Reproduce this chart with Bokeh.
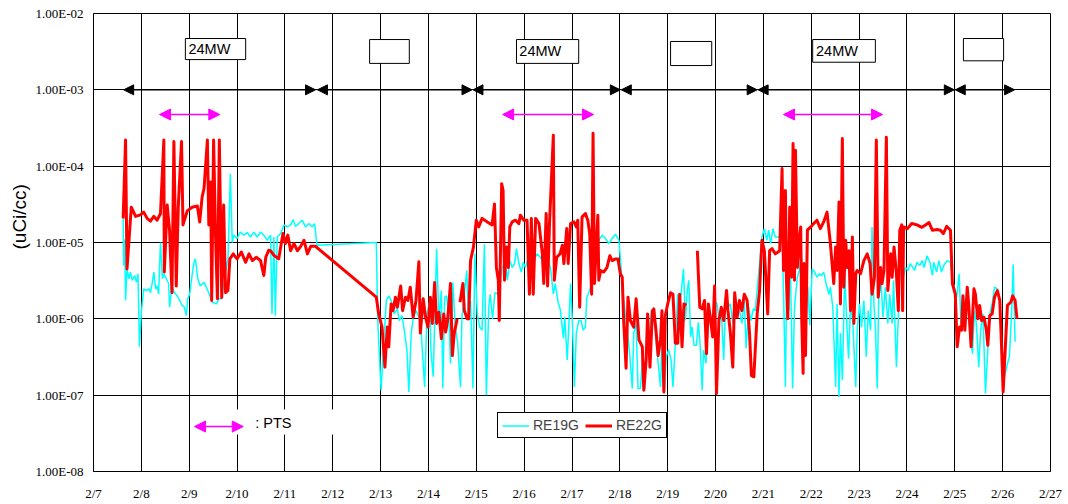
import math
from bokeh.plotting import figure
from bokeh.models import (Range1d, FixedTicker, BoxAnnotation, Label, Arrow, Title,
                          NormalHead, Legend, LegendItem)
from bokeh.embed import file_html
from bokeh.resources import INLINE

nan = math.nan

# ---------------- axis ticks ----------------
x_tick_days = [7, 8, 9, 10, 11, 12, 13, 14, 15, 16, 17, 18, 19, 20, 21, 22, 23, 24, 25, 26, 27]
x_tick_labels = ["2/7", "2/8", "2/9", "2/10", "2/11", "2/12", "2/13", "2/14", "2/15", "2/16",
                 "2/17", "2/18", "2/19", "2/20", "2/21", "2/22", "2/23", "2/24", "2/25", "2/26", "2/27"]
y_tick_values = [1e-8, 1e-7, 1e-6, 1e-5, 1e-4, 1e-3, 1e-2]
y_tick_labels = ["1.00E-08", "1.00E-07", "1.00E-06", "1.00E-05", "1.00E-04", "1.00E-03", "1.00E-02"]

# ---------------- RE19G (cyan) ----------------
re19g_day = [
    7.62, 7.63, 7.65, 7.67, 7.70, 7.74, 7.77, 7.81, 7.86, 7.90,
    7.93, 7.96, 8.00, 8.05, 8.10, 8.16, 8.19, 8.23, 8.26, 8.30,
    8.33, 8.36, 8.40, 8.44, 8.47, 8.57, 8.59, 8.64, 8.69, 8.75,
    8.82, 8.85, 8.90, 8.94, 8.97, 9.01, 9.06, 9.10, 9.13, 9.18,
    9.23, 9.31, 9.41, 9.48, 9.57, 9.62, 9.68, 9.76, 9.81, 9.86,
    9.90, 9.93, 10.00, 10.07, 10.14, 10.21, 10.28, 10.35, 10.42, 10.49,
    10.56, 10.63, 10.70, 10.73, 10.77, 10.80, 10.84, 10.91, 10.98, 11.05,
    11.12, 11.17, 11.22, 11.29, 11.36, 11.43, 11.50, 11.57, 11.62, 11.67,
    12.91, 12.94, 13.01, 13.07, 13.12, 13.17, 13.22, 13.28, 13.35, 13.39,
    13.45, 13.50, 13.55, 13.59, 13.64, 13.69, 13.74, 13.80, 13.85, 13.92,
    13.97, 14.03, 14.05, 14.10, 14.17, 14.22, 14.27, 14.30, 14.34, 14.38,
    14.43, 14.46, 14.51, 14.56, 14.61, 14.67, 14.70, 14.75, 14.80, 14.84,
    14.88, 14.93, 14.97, 15.02, 15.07, 15.12, 15.17, 15.21, 15.26, 15.29,
    15.34, 15.39, 15.47, 15.54, 15.61, 15.65, 15.70, 15.75, 15.80, 15.84,
    15.89, 15.94, 15.98, 16.03, 16.08, 16.13, 16.20, 16.27, 16.34, 16.41,
    16.48, 16.55, 16.61, 16.65, 16.71, 16.76, 16.82, 16.85, 16.90, 16.93,
    16.97, 17.01, 17.05, 17.09, 17.14, 17.19, 17.23, 17.28, 17.31, 17.37,
    17.42, 17.45, 17.52, 17.56, 17.63, 17.70, 17.77, 17.84, 17.91, 17.98,
    18.01, 18.05, 18.08, 18.15, 18.21, 18.26, 18.29, 18.34, 18.38, 18.43,
    18.48, 18.52, 18.57, 18.63, 18.66, 18.71, 18.76, 18.81, 18.85, 18.88,
    18.93, 18.97, 19.02, 19.07, 19.11, 19.16, 19.21, 19.25, 19.28, 19.33,
    19.37, 19.41, 19.44, 19.48, 19.51, 19.55, 19.60, 19.64, 19.68, 19.72,
    19.75, 19.80, 19.84, 19.89, 19.94, 19.98, 20.03, 20.08, 20.12, 20.17,
    20.22, 20.26, 20.31, 20.36, 20.40, 20.45, 20.50, 20.55, 20.60, 20.64,
    20.69, 20.74, 20.79, 20.83, 20.90, 20.97, 21.02, 21.07, 21.11, 21.15,
    21.20, 21.25, 21.32, 21.39, 21.42, 21.46, 21.49, 21.53, 21.56, 21.61,
    21.65, 21.71, 21.75, 21.79, 21.83, 21.88, 21.93, 21.97, 22.02, 22.07,
    22.12, 22.17, 22.21, 22.26, 22.31, 22.37, 22.40, 22.45, 22.51, 22.54,
    22.58, 22.61, 22.65, 22.70, 22.75, 22.78, 22.82, 22.87, 22.93, 22.96,
    23.01, 23.05, 23.10, 23.15, 23.19, 23.24, 23.27, 23.31, 23.34, 23.38,
    23.41, 23.46, 23.50, 23.55, 23.60, 23.64, 23.69, 23.72, 23.78, 23.83,
    23.87, 23.92, 23.97, 24.02, 24.07, 24.16, 24.21, 24.27, 24.32, 24.36,
    24.42, 24.48, 24.53, 24.56, 24.62, 24.67, 24.72, 24.77, 24.84, 24.91,
    24.95, 24.99, 25.04, 25.09, 25.13, 25.18, 25.21, 25.26, 25.31, 25.37,
    25.41, 25.45, 25.50, 25.54, 25.59, 25.64, 25.69, 25.73, 25.78, 25.83,
    25.89, 25.94, 25.99, 26.04, 26.10, 26.14, 26.18, 26.22, 26.26,
]
re19g_val = [
    2.65e-5, 5.0e-6, 1.1e-5, 1.74e-6, 4.5e-6, 3.35e-6, 4.1e-6, 3.2e-6, 3.7e-6, 3.0e-6,
    3.9e-6, 4.3e-7, 1.22e-6, 2.47e-6, 2.35e-6, 2.47e-6, 2.2e-6, 3.0e-6, 4.1e-6, 2.47e-6,
    2.7e-6, 2.1e-6, 1.0e-5, 3.35e-6, 3.9e-6, 2.9e-6, 1.42e-6, 2.7e-6, 2.2e-6, 2.0e-6,
    1.65e-6, 1.5e-6, 1.42e-6, 1.1e-6, 1.83e-6, 2.1e-6, 3.7e-6, 5.5e-6, 6.1e-6, 3.35e-6,
    2.7e-6, 3.0e-6, 2.2e-6, 1.65e-6, 1.57e-6, 1.83e-6, 1.83e-6, 4.1e-6, 6.1e-6, 7.9e-5,
    1.0e-5, 1.25e-5, 1.13e-5, 1.37e-5, 1.25e-5, 1.35e-5, 1.18e-5, 1.37e-5, 1.18e-5, 1.37e-5,
    1.25e-5, 1.07e-5, 1.25e-5, 1.16e-6, 1.18e-5, 1.1e-6, 1.18e-5, 1.31e-5, 1.7e-5, 1.6e-5,
    1.7e-5, 2.0e-5, 1.63e-5, 1.77e-5, 1.96e-5, 1.6e-5, 1.77e-5, 1.6e-5, 1.77e-5, 9.2e-6,
    1.0e-5, 9.5e-7, 1.16e-7, 5.3e-7, 1.74e-6, 2.0e-6, 1.74e-6, 1.16e-6, 1.35e-6, 9.5e-7,
    1.1e-6, 6.7e-7, 3.9e-7, 1.1e-7, 6.5e-7, 1.1e-6, 1.28e-6, 1.05e-6, 6.5e-7, 1.28e-7,
    1.16e-6, 1.74e-6, 3.9e-7, 1.74e-7, 8.3e-6, 9.5e-7, 2.35e-6, 1.22e-7, 1.92e-6, 2.0e-6,
    9.5e-7, 2.6e-7, 3.0e-6, 7.8e-7, 4.8e-7, 1.28e-7, 1.05e-6, 2.1e-6, 4.3e-6, 9.5e-7,
    1.74e-6, 1.22e-7, 7.1e-6, 1.16e-6, 7.8e-7, 7.1e-7, 9.5e-6, 1.0e-7, 1.42e-6, 2.1e-6,
    1.0e-6, 2.2e-6, 2.1e-6, 4.7e-6, 5.3e-6, 3.2e-6, 5.8e-6, 4.7e-6, 5.3e-6, 8.3e-6,
    5.3e-6, 4.1e-6, 5.5e-6, 4.7e-6, 6.4e-6, 7.1e-6, 5.8e-6, 7.1e-6, 6.4e-6, 5.3e-6,
    6.4e-6, 4.7e-6, 2.1e-6, 2.9e-6, 1.65e-6, 1.28e-6, 5.6e-7, 1.05e-6, 2.9e-7, 7.1e-7,
    2.9e-6, 8.7e-7, 1.28e-7, 6.5e-7, 9.5e-7, 9.5e-7, 7.1e-7, 7.8e-7, 1.92e-6, 2.35e-6,
    3.2e-6, 3.9e-6, 8.7e-6, 1.07e-5, 1.25e-5, 1.13e-5, 9.7e-6, 1.13e-5, 1.28e-5, 1.07e-5,
    6.4e-6, 2.9e-6, 1.74e-6, 7.8e-7, 3.2e-7, 1.22e-7, 6.5e-7, 8.7e-7, 1.22e-7, 1.22e-7,
    3.5e-7, 1.16e-7, 7.8e-7, 6.5e-7, 1.28e-6, 1.16e-6, 4.8e-7, 2.33e-7, 1.28e-7, 5.3e-7,
    1.05e-7, 3.2e-7, 3.9e-7, 2.9e-7, 1.28e-7, 4.8e-7, 2.1e-6, 1.57e-6, 2.1e-6, 4.5e-6,
    9.5e-7, 2.35e-6, 3.2e-6, 5.8e-7, 7.8e-7, 4.5e-7, 4.5e-7, 9.0e-7, 4.3e-7, 1.16e-7,
    3.9e-7, 2.6e-7, 7.8e-7, 1.16e-6, 9.5e-7, 1.74e-6, 1.57e-6, 9.5e-7, 1.28e-6, 2.9e-7,
    2.35e-6, 1.42e-6, 1.57e-6, 8.7e-7, 2.1e-6, 1.16e-6, 1.28e-6, 8.7e-7, 1.74e-6, 4.1e-7,
    1.42e-6, 9.5e-7, 1.35e-6, 1.28e-6, 3.9e-6, 1.18e-5, 1.52e-5, 1.07e-5, 1.45e-5, 9.7e-6,
    1.52e-5, 1.18e-5, 1.18e-5, 1.45e-5, 2.35e-6, 1.28e-7, 4.3e-6, 1.28e-6, 6.4e-6, 1.22e-7,
    1.42e-6, 3.5e-6, 4.3e-6, 7.1e-6, 2.35e-6, 1.05e-6, 2.6e-6, 8.2e-7, 4.5e-6, 4.1e-6,
    3.5e-6, 3.9e-6, 3.7e-6, 4.1e-6, 2.9e-6, 2.1e-6, 2.6e-6, 1.42e-6, 1.28e-7, 1.57e-6,
    9.5e-8, 6.5e-7, 1.57e-7, 3.9e-6, 7.1e-7, 3.0e-7, 1.57e-6, 8.7e-7, 1.28e-7, 7.1e-7,
    1.57e-6, 7.8e-7, 1.74e-6, 3.2e-7, 1.28e-6, 7.1e-7, 1.6e-5, 1.57e-6, 7.8e-7, 1.22e-7,
    1.92e-6, 2.9e-6, 1.05e-6, 2.6e-6, 8.7e-7, 2.1e-6, 8.7e-7, 3.2e-6, 2.33e-7, 1.57e-6,
    8.7e-6, 3.5e-6, 4.7e-6, 4.3e-6, 5.3e-6, 4.3e-6, 5.5e-6, 5.0e-6, 5.8e-6, 4.7e-6,
    6.7e-6, 5.5e-6, 3.7e-6, 5.5e-6, 4.1e-6, 5.8e-6, 4.1e-6, 5.0e-6, 5.8e-6, 5.5e-6,
    3.2e-6, 2.6e-6, 1.92e-6, 3.9e-6, 8.7e-7, 1.74e-6, 9.5e-7, 1.74e-6, 7.1e-7, 3.5e-7,
    1.28e-6, 8.7e-7, 2.33e-7, 7.1e-7, 1.16e-6, 1.05e-7, 3.9e-7, 1.16e-6, 1.57e-6, 2.6e-6,
    2.47e-6, 1.74e-6, 2.13e-7, 1.74e-7, 2.6e-7, 3.2e-7, 9.5e-7, 5.2e-6, 5.0e-7,
]

# ---------------- RE22G (red) ----------------
re22g_day = [
    7.62, 7.67, 7.70, 7.79, 7.88, 7.98, 8.05, 8.12, 8.19, 8.26,
    8.33, 8.40, 8.47, 8.48, 8.54, 8.59, 8.64, 8.68, 8.73, 8.77,
    8.84, 8.87, 8.96, 9.06, 9.17, 9.22, 9.27, 9.31, 9.38, 9.41,
    9.45, 9.47, 9.51, 9.55, 9.59, 9.63, 9.68, 9.72, 9.76, 9.81,
    9.85, 9.92, 10.00, 10.09, 10.18, 10.25, 10.32, 10.40, 10.49, 10.56,
    10.60, 10.66, 10.70, 10.77, 10.87, 10.96, 11.01, 11.06, 11.12, 11.19,
    11.26, 11.33, 11.40, 11.47, 11.54, 11.64, 12.91, 12.96, 13.03, 13.09,
    13.14, 13.17, 13.22, 13.26, 13.31, 13.35, 13.42, 13.46, 13.52, 13.57,
    13.62, 13.68, 13.74, 13.80, 13.83, 13.89, 13.94, 13.99, 14.04, 14.08,
    14.13, 14.17, 14.22, 14.27, 14.32, 14.36, 14.40, 14.46, 14.50, 14.54,
    14.60, 14.63, 14.66, 14.72, 14.75, 14.81, 14.84, 14.88, 14.94, 15.00,
    15.05, 15.12, 15.23, 15.33, 15.38, 15.42, 15.46, 15.48, 15.53, 15.56,
    15.59, 15.63, 15.67, 15.70, 15.75, 15.82, 15.89, 15.92, 15.99, 16.06,
    16.11, 16.15, 16.19, 16.24, 16.31, 16.38, 16.41, 16.46, 16.49, 16.53,
    16.61, 16.63, 16.68, 16.75, 16.80, 16.83, 16.89, 16.92, 16.97, 17.04,
    17.09, 17.12, 17.16, 17.21, 17.28, 17.33, 17.37, 17.41, 17.44, 17.47,
    17.54, 17.56, 17.60, 17.66, 17.73, 17.79, 17.84, 17.91, 17.96, 18.01,
    18.05, 18.08, 18.13, 18.17, 18.22, 18.29, 18.34, 18.40, 18.47, 18.50,
    18.55, 18.58, 18.63, 18.68, 18.71, 18.76, 18.80, 18.85, 18.88, 18.92,
    18.95, 19.00, 19.06, 19.11, 19.16, 19.21, 19.25, 19.30, 19.34, 19.39,
    19.50, 19.62, 19.67, 19.72, 19.77, 19.81, 19.85, 19.89, 19.94, 19.98,
    20.02, 20.07, 20.12, 20.17, 20.23, 20.26, 20.31, 20.36, 20.40, 20.45,
    20.50, 20.55, 20.60, 20.66, 20.71, 20.75, 20.80, 20.87, 20.92, 20.97,
    21.02, 21.09, 21.13, 21.18, 21.25, 21.34, 21.39, 21.42, 21.46, 21.48,
    21.51, 21.55, 21.59, 21.62, 21.65, 21.67, 21.71, 21.74, 21.78, 21.80,
    21.83, 21.85, 21.88, 21.92, 21.99, 22.05, 22.12, 22.19, 22.26, 22.33,
    22.40, 22.47, 22.51, 22.54, 22.58, 22.61, 22.65, 22.68, 22.72, 22.75,
    22.79, 22.82, 22.86, 22.89, 22.93, 22.96, 23.03, 23.10, 23.17, 23.23,
    23.27, 23.32, 23.36, 23.40, 23.45, 23.48, 23.52, 23.57, 23.60, 23.66,
    23.69, 23.73, 23.78, 23.82, 23.85, 23.89, 23.91, 23.93, 24.01, 24.10,
    24.21, 24.31, 24.39, 24.46, 24.53, 24.63, 24.70, 24.76, 24.83, 24.91,
    24.95, 25.01, 25.05, 25.10, 25.14, 25.17, 25.21, 25.26, 25.29, 25.34,
    25.40, 25.43, 25.48, 25.52, 25.56, 25.61, 25.66, 25.69, 25.73, 25.78,
    25.83, 25.89, 25.94, 25.98, 26.01, 26.06, 26.10, 26.17, 26.21, 26.26,
    26.30,
]
re22g_val = [
    2.07e-5, 2.2e-4, 4.5e-6, 2.9e-5, 2.2e-5, 2.3e-5, 2.5e-5, 2.07e-5, 1.9e-5, 2.2e-5,
    1.96e-5, 2.4e-5, 2.2e-4, 4.1e-6, 3.1e-5, 1.44e-5, 2.2e-6, 2.1e-4, 2.7e-6, 2.8e-5,
    2.1e-4, 1.7e-5, 2.6e-5, 2.9e-5, 3.0e-5, 1.86e-5, 3.95e-5, 5.1e-5, 2.2e-4, 1.7e-5,
    6.2e-5, 1.74e-6, 2.2e-4, 1.25e-5, 1.83e-6, 2.2e-4, 1.9e-6, 3.1e-5, 2.2e-6, 2.35e-6,
    6.1e-6, 7.1e-6, 6.1e-6, 7.5e-6, 5.5e-6, 7.1e-6, 5.8e-6, 6.4e-6, 5.8e-6, 3.7e-6,
    6.4e-6, 7.9e-6, 7.8e-6, 6.8e-6, 6.1e-6, 1.31e-5, 9.7e-6, 1.25e-5, 7.8e-6, 9.7e-6,
    7.8e-6, 8.9e-6, 1.07e-5, 7.1e-6, 8.9e-6, 8.9e-6, 1.92e-6, 1.16e-6, 7.8e-7, 2.33e-7,
    7.8e-7, 4.3e-7, 1.57e-6, 1.28e-6, 1.92e-6, 1.42e-6, 2.7e-6, 1.28e-6, 1.92e-6, 1.74e-6,
    2.6e-6, 1.05e-6, 1.74e-6, 5.6e-6, 6.5e-7, 1.83e-6, 1.05e-6, 7.8e-7, 1.92e-6, 8.7e-7,
    3.0e-6, 8.7e-7, 1.22e-6, 5.5e-7, 1.16e-6, 6.7e-7, 9.5e-7, 2.9e-6, 3.3e-7, 6.5e-7,
    1.0e-6, nan, 1.65e-6, 2.9e-6, 1.28e-6, 1.0e-6, 1.0e-6, 5.8e-6, 8.7e-6, 1.96e-5,
    1.6e-5, 2.07e-5, 1.86e-5, 1.7e-5, 3.2e-5, 4.7e-6, 3.2e-6, 9.5e-7, 5.9e-5, 4.8e-5,
    3.2e-6, 8.7e-6, 4.7e-6, 1.6e-5, 1.86e-5, 1.96e-5, 1.77e-5, 2.28e-5, 1.96e-5, 1.96e-5,
    2.1e-6, 2.07e-5, 2.1e-6, 2.07e-5, 1.77e-5, 7.1e-6, 2.9e-6, 2.4e-5, 2.7e-6, 1.77e-5,
    2.55e-4, 3.2e-6, 6.4e-6, 7.1e-6, 9.2e-6, 5.3e-6, 1.52e-5, 5.3e-6, 1.77e-5, 1.86e-5,
    1.6e-5, 1.96e-5, 1.42e-6, 2.15e-5, 2.4e-5, 1.96e-5, 1.31e-5, 2.1e-6, 2.7e-4, 2.9e-6,
    2.28e-5, 3.2e-6, 4.3e-6, 4.1e-6, 4.7e-6, 6.7e-6, 5.8e-6, 6.1e-6, 6.1e-6, 3.9e-6,
    3.5e-6, 9.5e-7, 2.25e-7, 1.92e-6, 9.5e-7, 7.8e-7, 1.83e-6, 5.3e-7, 4.3e-7, 1.16e-7,
    2.9e-7, 1.16e-6, 2.33e-7, 1.28e-6, 1.35e-6, 6.5e-7, 3.3e-7, 5.3e-7, 1.28e-6, 1.1e-7,
    1.1e-6, 1.57e-6, 2.2e-6, 2.1e-6, 4.8e-7, 4.8e-7, 2.1e-6, 4.3e-7, 1.57e-6, 1.5e-6,
    nan, 7.8e-6, 1.42e-6, 1.35e-6, 1.74e-6, 3.5e-7, 1.57e-6, 1.05e-6, 5.8e-7, 2.7e-6,
    1.05e-7, 9.5e-7, 1.42e-6, 9.5e-7, 2.35e-6, 1.28e-6, 6.5e-7, 2.33e-7, 2.2e-6, 1.05e-6,
    1.74e-6, 1.28e-6, 2.1e-6, 1.74e-6, 6.5e-7, 1.8e-7, 1.74e-7, 1.16e-6, 2.35e-6, 1.07e-5,
    7.8e-6, 1.16e-6, 7.8e-6, 8.3e-6, 7.1e-6, 7.8e-6, 9.3e-5, 4.3e-6, 4.8e-5, 3.5e-6,
    1.0e-6, 2.9e-5, 3.5e-6, 1.98e-4, 3.2e-6, 1.62e-4, 4.7e-6, 9.7e-6, 1.6e-5, 1.05e-6,
    1.93e-7, 5.3e-6, 3.3e-7, 1.45e-5, 1.6e-5, 1.77e-5, 1.96e-5, 1.52e-5, 1.86e-5, 2.5e-5,
    9.7e-6, 2.9e-6, 8.7e-6, 4.3e-6, 3.4e-5, 1.57e-6, 2.3e-4, 2.6e-6, 1.07e-5, 4.7e-6,
    7.8e-6, 1.28e-6, 1.18e-5, 8.7e-7, 3.9e-6, 4.3e-6, 3.9e-6, 5.8e-6, 7.1e-6, 5.3e-6,
    2.1e-6, 3.5e-6, 2.2e-4, 1.92e-6, 4.7e-6, 2.9e-6, 4.3e-6, 2.4e-4, 2.35e-6, 7.1e-6,
    3.5e-6, 8.7e-6, 3.9e-6, 1.28e-6, 1.45e-5, 1.7e-5, 1.28e-6, 1.6e-5, 1.52e-5, 1.77e-5,
    1.7e-5, 1.58e-5, 1.7e-5, 1.83e-5, 1.45e-5, 1.48e-5, 1.45e-5, 1.31e-5, 1.63e-5, 1.45e-5,
    2.9e-6, 2.1e-6, 4.3e-7, 7.8e-7, 7.1e-7, 2.0e-6, 7.1e-7, 2.6e-6, 1.57e-6, 4.3e-7,
    2.47e-6, 2.1e-6, 1.0e-6, 1.5e-6, 9.5e-7, 1.05e-6, 7.1e-7, 4.5e-7, 1.1e-6, 1.16e-6,
    1.92e-6, 2.35e-6, 1.74e-6, 3.9e-7, 1.1e-7, 4.8e-7, 1.5e-6, 1.65e-6, 2.0e-6, 1.74e-6,
    1.0e-6,
]

assert len(re19g_day) == len(re19g_val), (len(re19g_day), len(re19g_val))
assert len(re22g_day) == len(re22g_val), (len(re22g_day), len(re22g_val))

SANS = "Liberation Sans"
SERIF = "Liberation Serif"
CYAN = "#00FFFF"
RED = "#FF0000"
MAGENTA = "#FF00FF"

p = figure(width=1068, height=504, x_range=Range1d(7, 27), y_range=Range1d(1e-8, 1e-2),
           y_axis_type="log", output_backend="svg", toolbar_location=None,
           min_border_left=93, min_border_right=18, min_border_top=13, min_border_bottom=33)
p.background_fill_color = "white"
p.border_fill_color = "white"
p.outline_line_color = "black"
p.outline_line_width = 1

# axes
p.xaxis.ticker = FixedTicker(ticks=x_tick_days)
p.xaxis.major_label_overrides = dict(zip(x_tick_days, x_tick_labels))
p.yaxis.ticker = FixedTicker(ticks=y_tick_values)
p.yaxis.major_label_overrides = dict(zip(y_tick_values, y_tick_labels))
for ax in (p.xaxis, p.yaxis):
    ax.axis_line_color = "black"
    ax.major_tick_line_color = None
    ax.minor_tick_line_color = None
    ax.major_tick_out = 0
    ax.major_tick_in = 0
    ax.major_label_text_font = SERIF
    ax.major_label_text_font_size = "13px"
    ax.major_label_text_color = "black"
p.xaxis.major_label_standoff = 14
p.yaxis.major_label_standoff = 10

# y-axis title, left of the tick labels and raised like the original
ytitle = Title(text="(uCi/cc)", align="left", offset=222, standoff=6,
               text_font=SANS, text_font_size="19px", text_font_style="normal",
               text_color="black")
p.add_layout(ytitle, "left")

# grid
p.xgrid.ticker = FixedTicker(ticks=x_tick_days)
p.xgrid.grid_line_color = "black"
p.xgrid.grid_line_alpha = 1.0
p.ygrid.grid_line_color = "black"
p.ygrid.grid_line_alpha = 1.0
p.xgrid.grid_line_width = 1
p.ygrid.grid_line_width = 1

# data
r19 = p.line(re19g_day, re19g_val, line_color=CYAN, line_width=1.5)
r22 = p.line(re22g_day, re22g_val, line_color=RED, line_width=3, line_join="round")

# operating-state boxes
boxes = [
    (8.92, 10.18, 2.49e-3, 4.70e-3, "24MW", 8.985, 3.38e-3),
    (12.77, 13.60, 2.22e-3, 4.56e-3, "", None, None),
    (15.84, 17.14, 2.22e-3, 4.56e-3, "24MW", 15.90, 3.18e-3),
    (19.06, 19.92, 2.08e-3, 4.30e-3, "", None, None),
    (22.03, 23.34, 2.30e-3, 4.56e-3, "24MW", 22.10, 3.18e-3),
    (25.18, 26.02, 2.40e-3, 4.70e-3, "", None, None),
]
for l, r, b, t, txt, tx, ty in boxes:
    p.add_layout(BoxAnnotation(left=l, right=r, bottom=b, top=t, fill_color="white",
                               fill_alpha=1.0, line_color="black", line_width=1, line_alpha=1.0))
    if txt:
        p.add_layout(Label(x=tx, y=ty, text=txt, text_align="left", text_baseline="middle",
                           text_font=SANS, text_font_size="14.5px", text_color="black"))

# black period arrows along 1E-03
periods = [(7.63, 11.64), (11.68, 14.91), (14.93, 18.01), (18.03, 20.87), (20.89, 24.99), (25.01, 26.25)]
for a, b in periods:
    p.add_layout(Arrow(x_start=a, y_start=1e-3, x_end=b, y_end=1e-3,
                       start=NormalHead(size=10, fill_color="black", line_color="black"),
                       end=NormalHead(size=10, fill_color="black", line_color="black"),
                       line_color="black", line_width=1.5))

# magenta PTS arrows
pts = [(8.38, 9.64), (15.55, 17.45), (21.42, 23.49)]
for a, b in pts:
    p.add_layout(Arrow(x_start=a, y_start=4.75e-4, x_end=b, y_end=4.75e-4,
                       start=NormalHead(size=11, fill_color=MAGENTA, line_color=MAGENTA),
                       end=NormalHead(size=11, fill_color=MAGENTA, line_color=MAGENTA),
                       line_color=MAGENTA, line_width=1.5))

# PTS key
p.add_layout(BoxAnnotation(left=9.24, right=12.27, bottom=3.05e-8, top=6.48e-8,
                           fill_color="white", fill_alpha=1.0, line_color=None))
p.add_layout(Arrow(x_start=9.11, y_start=3.88e-8, x_end=10.13, y_end=3.88e-8,
                   start=NormalHead(size=11, fill_color=MAGENTA, line_color=MAGENTA),
                   end=NormalHead(size=11, fill_color=MAGENTA, line_color=MAGENTA),
                   line_color=MAGENTA, line_width=1.5))
p.add_layout(Label(x=10.38, y=4.38e-8, text=": PTS", text_align="left", text_baseline="middle",
                   text_font=SANS, text_font_size="14.5px", text_color="black"))

# legend
legend = Legend(items=[LegendItem(label="RE19G", renderers=[r19]),
                       LegendItem(label="RE22G", renderers=[r22])],
                orientation="horizontal", location=(404, 33))
legend.label_text_font = SANS
legend.label_text_font_size = "14px"
legend.label_standoff = 4
legend.glyph_width = 27
legend.glyph_height = 15
legend.label_height = 15
legend.spacing = 6
legend.padding = 4
legend.margin = 0
legend.border_line_color = "black"
legend.border_line_width = 1
legend.border_line_alpha = 1.0
legend.background_fill_color = "white"
legend.background_fill_alpha = 1.0
p.add_layout(legend)

open("out.html", "w").write(file_html(p, INLINE))
